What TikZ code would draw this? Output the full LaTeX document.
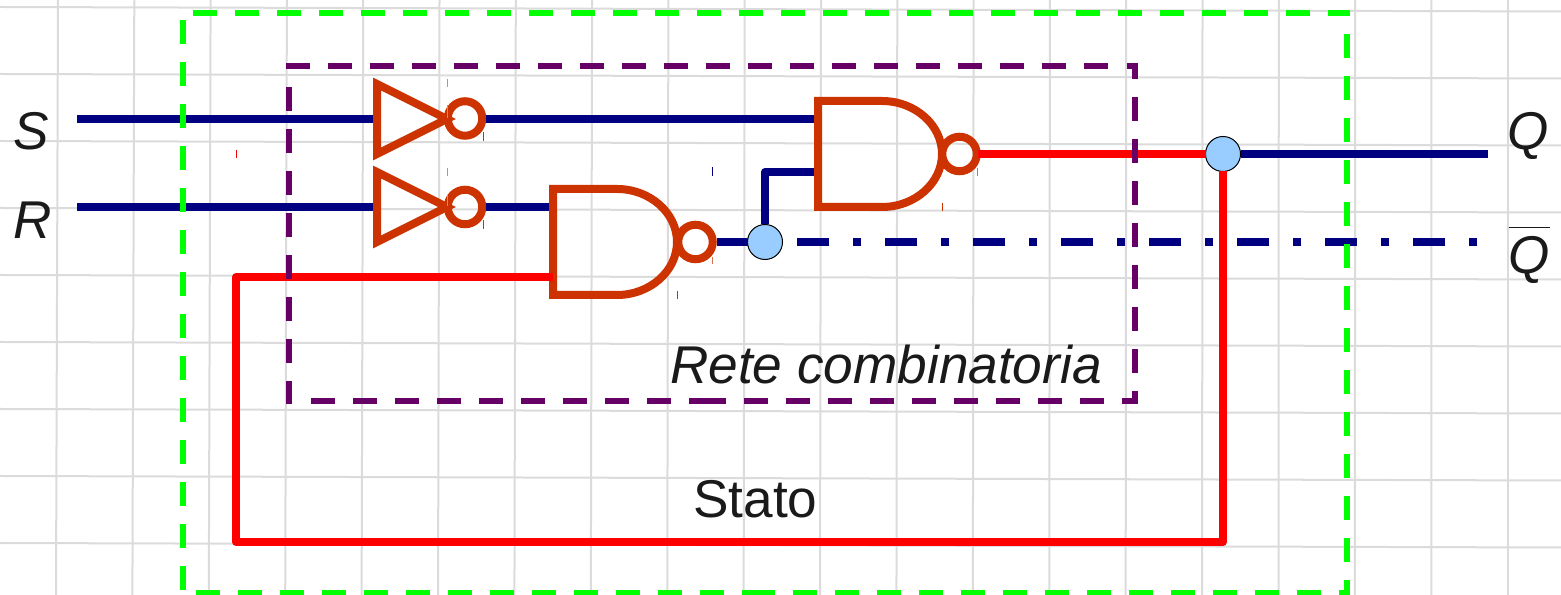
\documentclass[tikz,border=0pt]{standalone}
\usepackage{fontspec}
\setmainfont{Liberation Sans}
\definecolor{filoblu}{HTML}{000080}
\definecolor{porta}{HTML}{CC3300}
\definecolor{viola}{HTML}{660066}
\definecolor{nodo}{HTML}{99CCFF}
\definecolor{testo}{HTML}{1A1A1A}
\def\invshape{(0,35) -- (70,0) -- (0,-35) -- cycle}
\def\nandshape{(0,-53) -- (64,-53) .. controls (97,-53) and (124,-29) .. (124,0) .. controls (124,29) and (97,53) .. (64,53) -- (0,53) -- cycle}
\tikzset{
  griglia/.style={black!14, line width=0.2mm},
  gatebody/.style={draw=porta, line width=0.8mm, miter limit=10},
  bubble/.style={circle, draw=porta, line width=0.8mm, inner sep=0pt, outer sep=0.4mm, minimum size=3.45mm},
  junct/.style={circle, draw=black, fill=nodo, line width=0.1mm, inner sep=0pt, outer sep=0pt, minimum size=3.5mm},
  bluewire/.style={filoblu, line width=0.8mm},
  redwire/.style={red, line width=0.8mm, line join=round},
  greenbox/.style={green, line width=0.6mm, dash pattern=on 2.4mm off 1.8mm},
  purplebox/.style={viola, line width=0.6mm, dash pattern=on 2.4mm off 1.8mm},
  etichetta/.style={testo, inner sep=0pt, anchor=base west, font=\fontsize{15.12}{18}\selectfont}
}
\begin{document}
\begin{tikzpicture}[x=0.01cm, y=-0.01cm]
  \useasboundingbox (0,0) rectangle (1561,595);
  \foreach \k in {0,...,19} {
    \draw[griglia] ({58+76.3*\k},0) -- ({58+76.3*\k-2*(1-\k/19)},595);
  }
  \foreach \k in {0,...,8} {
    \draw[griglia] (0,{7+67*\k}) -- (1561,{11.5+67*\k});
  }
  \begin{scope}[shift={(377,119)}]
    \draw[gatebody] \invshape;
  \end{scope}
  \begin{scope}[shift={(377,207)}]
    \draw[gatebody] \invshape;
  \end{scope}
  \begin{scope}[shift={(553,242)}]
    \draw[gatebody] \nandshape;
  \end{scope}
  \begin{scope}[shift={(818,154)}]
    \draw[gatebody] \nandshape;
  \end{scope}
  \node[bubble] (bs) at (465,118.5) {};
  \node[bubble] (br) at (465,207) {};
  \node[bubble] (bna) at (695.5,242) {};
  \node[bubble] (bnb) at (959.5,154) {};
  \node[junct] (ja) at (765,242) {};
  \node[junct] (jb) at (1223,154) {};
  \coordinate (ins) at (77,119);
  \coordinate (inr) at (77,207);
  \coordinate (invs) at (373,119);
  \coordinate (invr) at (373,207);
  \coordinate (nasotto) at (549,207);
  \coordinate (nastato) at (553,277);
  \coordinate (nbsopra) at (814,119);
  \coordinate (nbsotto) at (814,172);
  \coordinate (outq) at (1488,154);
  \coordinate (outn) at (1478,242);
  \coordinate (ritorno) at (236,542);
  \draw[bluewire] (ins) -- (invs);
  \draw[bluewire] (inr) -- (invr);
  \draw[bluewire] (bs.east |- nbsopra) -- (nbsopra);
  \draw[bluewire] (br.east) -- (nasotto);
  \draw[bluewire] (bna.east) -- (ja.west);
  \draw[bluewire, line join=round] (ja.north) |- (nbsotto);
  \draw[bluewire] (jb.east) -- (outq);
  \draw[bluewire, dash pattern=on 3.2mm off 2.4mm on 0.8mm off 2.4mm, dash phase=7.35mm] (ja.east) -- (outn);
  \draw[redwire, shorten <=-0.3mm] (bnb.east) -- (jb.west);
  \draw[redwire] (nastato) -| (ritorno) -| (jb.south);
  \draw[greenbox] (193,13) -- (1350,13);
  \draw[greenbox] (183,20) -- (183,592);
  \draw[greenbox] (196,593) -- (766,593);
  \draw[greenbox] (751,593) -- (1350,593);
  \draw[greenbox] (1347,34) -- (1347,595);
  \draw[purplebox] (286,66) -- (1138,66);
  \draw[purplebox] (289,63) -- (289,69);
  \draw[purplebox] (289,87) -- (289,404);
  \draw[purplebox] (311,401) -- (713,401);
  \draw[purplebox] (702,401) -- (1138,401);
  \draw[purplebox] (1135,63) -- (1135,79);
  \draw[purplebox] (1135,97) -- (1135,404);
  \foreach \x/\ya/\yb/\c in {236.5/150/158/red, 447.5/79/87/porta!60, 447.5/105/118/porta!60, 483/132/141/porta,
      447.5/168/176/porta!60, 447.5/195/206/porta!60, 483/220/229/porta, 677.5/291/299/porta, 712.5/257/264/porta!70,
      712.5/167/176/filoblu, 942/203/211/porta, 977/168/176/porta!70} {
    \draw[\c, line width=0.1mm] (\x,\ya) -- (\x,\yb);
  }
  \node[etichetta] (s) at (12.5,150) {\itshape S};
  \node[etichetta] (r) at (12.5,239) {\itshape R};
  \node[etichetta] (q) at (1506.5,150) {\itshape Q};
  \node[etichetta] (qn) at (1508,273.5) {$\overline{\hbox{\rule{0pt}{11.6pt}\itshape Q}}$};
  \node[etichetta] (rete) at (669.5,384) {\itshape Rete combinatoria};
  \node[etichetta] (stato) at (692.5,518) {Stato};
\end{tikzpicture}
\end{document}
